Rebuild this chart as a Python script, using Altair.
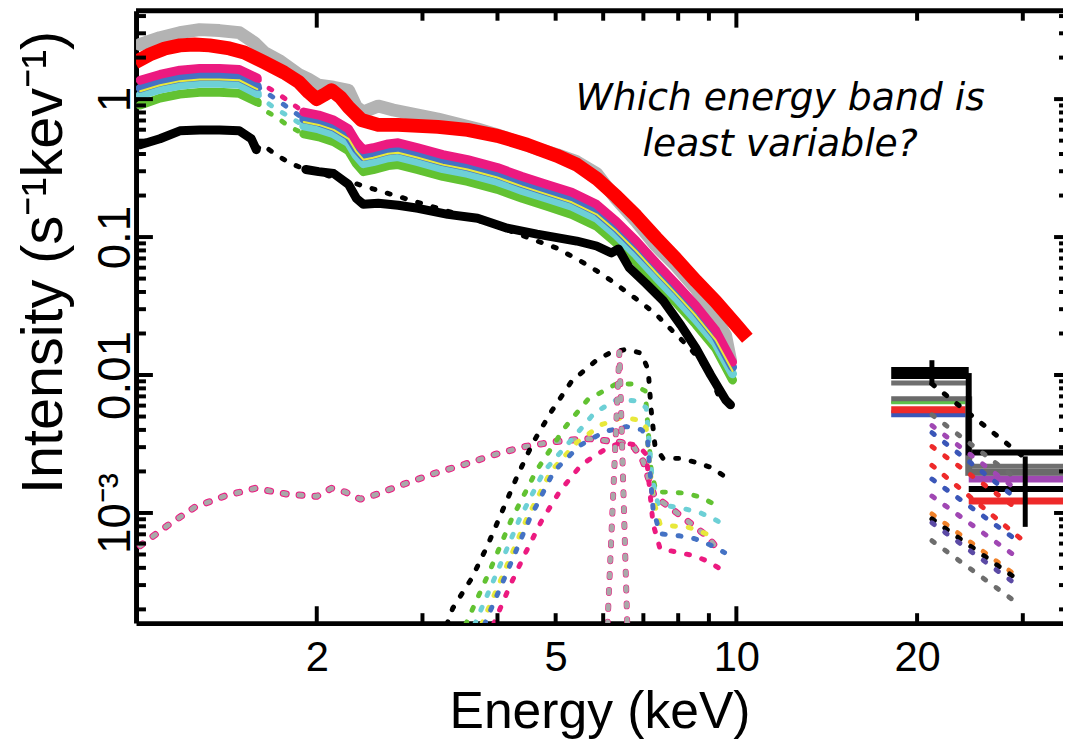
import altair as alt
import pandas as pd

# ---------------- data ----------------
# grey soft-band spectrum
gray_E = [1.016, 1.096, 1.183, 1.276, 1.377, 1.486, 1.574, 1.635, 1.730, 1.867, 1.940, 2.015, 2.134, 2.259,
          2.328, 2.391, 2.532, 2.681, 2.949, 3.183, 3.435, 3.706, 3.998, 4.314, 4.655, 5.023, 5.421, 5.849,
          6.312, 6.811, 7.350, 7.932, 8.559, 8.892, 9.237, 9.594, 9.779]
gray_I = [2.49, 2.79, 3.03, 3.19, 3.14, 3.03, 2.57, 2.18, 1.91, 1.51, 1.39, 1.26, 1.22, 1.16,
          0.876, 0.806, 0.890, 0.834, 0.767, 0.718, 0.661, 0.608, 0.551, 0.491, 0.437, 0.396, 0.352, 0.289,
          0.188, 0.130, 0.0861, 0.0619, 0.0423, 0.0335, 0.0257, 0.0194, 0.0128]

# red model curve
red_E = [0.9966, 1.055, 1.117, 1.183, 1.252, 1.326, 1.431, 1.515, 1.635, 1.764, 1.867, 1.940, 2.0, 2.054,
         2.117, 2.191, 2.259, 2.374, 2.532, 2.732, 3.183, 3.567, 3.998, 4.481, 5.023, 5.421, 5.849, 6.312,
         6.811, 7.350, 7.932, 8.559, 9.237, 9.967, 10.43]
red_I = [1.85, 2.11, 2.33, 2.45, 2.49, 2.45, 2.33, 2.18, 1.85, 1.56, 1.33, 1.12, 1.0, 1.07,
         1.16, 1.03, 0.876, 0.706, 0.650, 0.650, 0.629, 0.598, 0.542, 0.467, 0.389, 0.335, 0.266, 0.197,
         0.142, 0.0985, 0.0695, 0.0482, 0.0341, 0.0233, 0.0185]

# coloured spectra: segment below 1.6 keV, dotted gap, segment above 1.9 keV
seg1_E = [1.016, 1.096, 1.183, 1.276, 1.377, 1.486, 1.592]
pink1_I = [1.37, 1.51, 1.62, 1.67, 1.67, 1.64, 1.42]
blue1_I = [1.20, 1.33, 1.42, 1.46, 1.46, 1.44, 1.24]
yell1_I = [1.14, 1.26, 1.35, 1.39, 1.39, 1.37, 1.18]
cyan1_I = [1.07, 1.18, 1.26, 1.30, 1.30, 1.28, 1.10]
green1_I = [0.905, 1.017, 1.086, 1.12, 1.12, 1.10, 0.952]

gap_E = [1.592, 1.623, 1.711, 1.804, 1.903]
pink_gap = [1.42, 1.28, 1.12, 0.952, 0.806]
blue_gap = [1.24, 1.16, 1.0, 0.847, 0.718]
cyan_gap = [1.10, 1.0, 0.847, 0.742, 0.639]
green_gap = [0.952, 0.847, 0.742, 0.629, 0.560]

seg2_E = [1.903, 2.015, 2.134, 2.259, 2.328, 2.391, 2.484, 2.630, 2.732, 2.949, 3.243, 3.567, 3.998,
          4.396, 4.836, 5.319, 5.849, 6.312, 6.811, 7.350, 7.932, 8.559, 9.237, 9.854]
pink2_I = [0.806, 0.767, 0.706, 0.608, 0.491, 0.430, 0.444, 0.474, 0.483, 0.444, 0.396, 0.364, 0.319,
           0.275, 0.2406, 0.211, 0.1727, 0.130, 0.0936, 0.065, 0.0459, 0.0319, 0.0211, 0.0124]
blue2_I = [0.718, 0.683, 0.629, 0.542, 0.437, 0.383, 0.396, 0.4225, 0.430, 0.396, 0.352, 0.324, 0.284,
           0.2446, 0.214, 0.188, 0.154, 0.116, 0.0833, 0.0589, 0.0416, 0.0289, 0.0191, 0.0114]
yell2_I = [0.683, 0.650, 0.598, 0.5157, 0.416, 0.364, 0.376, 0.402, 0.409, 0.376, 0.335, 0.3085, 0.270,
           0.233, 0.204, 0.1786, 0.1463, 0.110, 0.0793, 0.0551, 0.0389, 0.027, 0.0179, 0.0107]
cyan2_I = [0.639, 0.608, 0.560, 0.4827, 0.389, 0.3406, 0.352, 0.376, 0.383, 0.352, 0.3136, 0.289, 0.253,
           0.2178, 0.1909, 0.167, 0.137, 0.1034, 0.0742, 0.0515, 0.0364, 0.0253, 0.0170, 0.0102]
green2_I = [0.560, 0.533, 0.491, 0.4225, 0.341, 0.298, 0.3085, 0.3296, 0.335, 0.3085, 0.275, 0.253, 0.2215,
            0.191, 0.167, 0.146, 0.120, 0.0905, 0.0661, 0.0467, 0.0335, 0.0233, 0.0156, 0.0092]

# black spectrum
blk1_E = [1.016, 1.096, 1.183, 1.276, 1.377, 1.486, 1.556, 1.586]
blk1_I = [0.467, 0.516, 0.589, 0.598, 0.598, 0.589, 0.516, 0.430]
blk2_E = [1.918, 2.015, 2.134, 2.259, 2.328, 2.391, 2.532, 2.732, 2.949, 3.306, 3.706, 4.153, 4.655,
          5.421, 5.849, 6.193, 6.362, 6.633, 7.076, 7.548, 8.084, 8.559, 9.063, 9.594, 9.779]
blk2_I = [0.309, 0.298, 0.289, 0.241, 0.191, 0.173, 0.1757, 0.170, 0.1617, 0.146, 0.137, 0.116, 0.1051,
          0.0936, 0.0861, 0.0767, 0.0820, 0.0598, 0.0459, 0.0347, 0.0229, 0.0157, 0.0100, 0.00661, 0.00608]

# black dotted continuum model
bmod_E = [1.586, 1.623, 1.711, 1.811, 1.918, 2.259, 2.732, 3.306, 3.998, 4.655, 5.023, 5.567, 5.849,
          6.193, 6.557, 6.943, 7.350, 7.694, 8.054, 8.43, 8.79, 9.10, 9.31]
bmod_I = [0.430, 0.467, 0.396, 0.341, 0.309, 0.253, 0.197, 0.154, 0.120, 0.0936, 0.0832, 0.065, 0.057,
          0.0482, 0.0402, 0.0335, 0.0275, 0.0225, 0.0185, 0.0151, 0.0120, 0.00936, 0.0073]

# soft (reflection) component, grey dotted
soft_E = [1.016, 1.126, 1.252, 1.404, 1.579, 1.784, 2.0, 2.117, 2.233, 2.364, 2.494, 2.796, 3.146, 3.526,
          3.968, 4.447, 5.023, 5.675, 6.433, 6.760, 6.995, 7.13, 7.295, 7.694, 8.084, 8.496, 8.96, 9.344]
soft_I = [0.000579, 0.000805, 0.00110, 0.001325, 0.00151, 0.00137, 0.00132, 0.00151, 0.001416, 0.00126,
          0.001348, 0.00162, 0.00194, 0.00225, 0.00266, 0.00303, 0.00330, 0.00346, 0.00324, 0.00298,
          0.002366, 0.001815, 0.001325, 0.001123, 0.00095, 0.000806, 0.000672, 0.000533]

# narrow Fe line (grey dotted)
narrow_E = [6.10, 6.385, 6.58]
narrow_I = [0.000155, 0.01464, 0.000155]

# broad Fe line components
bg_E = [3.293, 3.370, 3.622, 3.849, 4.075, 4.314, 4.585, 4.928, 5.319, 5.849, 6.146, 6.557, 6.943, 7.13,
        7.211, 7.321, 7.548, 8.054, 8.559, 9.063, 9.557]
bg_I = [0.000155, 0.000204, 0.000335, 0.000579, 0.001034, 0.001845, 0.00324, 0.00551, 0.00905, 0.0128,
        0.0144, 0.01538, 0.0144, 0.0109, 0.0056, 0.00303, 0.002487, 0.002487, 0.002328, 0.002143, 0.001845]
gfe_E = [3.539, 3.878, 4.217, 4.638, 5.179, 5.652, 6.312, 6.683, 7.049, 7.211, 7.350, 7.753, 8.208, 8.724, 9.237]
gfe_I = [0.000155, 0.000376, 0.00089, 0.002005, 0.004157, 0.00661, 0.00862, 0.00862, 0.00767, 0.00207,
         0.001416, 0.001416, 0.001393, 0.001303, 0.001142]
cfe_E = [3.664, 3.998, 4.346, 4.781, 5.319, 5.805, 6.312, 6.811, 7.076, 7.239, 7.406, 8.208, 8.724, 9.237, 9.705]
cfe_I = [0.000155, 0.000376, 0.00089, 0.002005, 0.00341, 0.00533, 0.00661, 0.0065, 0.00579, 0.00176,
         0.00116, 0.00107, 0.001, 0.00089, 0.00078]
yfe_E = [3.762, 4.106, 4.465, 4.91, 5.421, 5.963, 6.433, 6.863, 7.076, 7.265, 7.462, 7.783, 8.27, 8.757, 9.271]
yfe_I = [0.000155, 0.000376, 0.00089, 0.002005, 0.00324, 0.00437, 0.0049, 0.00474, 0.004157, 0.00126,
         0.000834, 0.000806, 0.000793, 0.00073, 0.00065]
bfe_E = [3.804, 4.153, 4.516, 4.966, 5.483, 6.03, 6.557, 6.943, 7.103, 7.265, 7.462, 8.023, 8.529, 9.029, 9.557]
bfe_I = [0.000155, 0.000376, 0.00089, 0.002005, 0.00308, 0.00389, 0.00423, 0.00402, 0.00364, 0.00107,
         0.000706, 0.000683, 0.00065, 0.000588, 0.000516]
pfe_E = [3.937, 4.184, 4.43, 4.727, 5.082, 5.525, 6.146, 6.482, 6.863, 7.076, 7.265, 7.462, 8.023, 8.496, 8.99, 9.484]
pfe_I = [0.000155, 0.000289, 0.00049, 0.000862, 0.00144, 0.00225, 0.00303, 0.00324, 0.00308, 0.00266,
         0.000834, 0.000551, 0.000516, 0.00049, 0.000444, 0.000383]

# hard band: two bins
bin_lo = [18.11, 24.38]
bin_hi = [24.38, 35.0]
hb_names = ["blue", "red", "purple", "gray2", "gray1", "green", "black_b", "black_a"]
hb_colors = ["#3a56b8", "#ee2a2a", "#a047b3", "#6a6a6a", "#6f6f6f", "#5fc04a", "#000000", "#000000"]
hb_widths = [7, 7, 7, 7, 5, 3, 6, 6]
hb_bin1 = [0.00524, 0.0056, None, 0.00661, 0.00876, 0.00629, 0.00983, 0.01086]
hb_bin2 = [None, 0.00122, 0.00176, 0.00197, 0.002178, None, 0.002747, 0.00149]
step_names = ["gray2", "black_b"]
err_E = [21.17, 30.28]
err_lo = [0.00847, 0.000793]
err_hi = [0.0128, 0.00257]

# hard band dotted model lines (start at 21.2 keV)
hd_E0 = [21.17] * 12
hd_E1 = [30.16, 28.93, 28.93, 28.93, 28.93, 30.05, 28.93, 28.93, 28.93, 28.93, 28.93, 28.93]
hd_I0 = [0.00862, 0.00515, 0.0043, 0.00382, 0.00303, 0.002215, 0.00176, 0.001325, 0.000984, 0.000906, 0.000848, 0.000629]
hd_I1 = [0.00253, 0.001845, 0.00154, 0.001325, 0.001123, 0.000629, 0.000661, 0.000499, 0.000364, 0.000346, 0.000314, 0.000233]
hd_col = ["#000000", "#6d6d6d", "#a047b3", "#3a56b8", "#ee2a2a", "#ee2a2a", "#3a56b8", "#a047b3",
          "#f0822a", "#000000", "#5b4aa5", "#6d6d6d"]

# ticks
x_long = [2, 10]
x_short = [3, 4, 5, 6, 7, 8, 9, 20, 30]
y_long = [0.001, 0.01, 0.1, 1]
y_short = [0.0002, 0.0003, 0.0004, 0.0005, 0.0006, 0.0007, 0.0008, 0.0009,
           0.002, 0.003, 0.004, 0.005, 0.006, 0.007, 0.008, 0.009,
           0.02, 0.03, 0.04, 0.05, 0.06, 0.07, 0.08, 0.09,
           0.2, 0.3, 0.4, 0.5, 0.6, 0.7, 0.8, 0.9, 2, 3, 4]

note_text = "Which energy band is\nleast variable?"
note_E = 11.83
note_I = 0.830

# ---------------- chart ----------------
W, H = 934, 617
FONT = "Liberation Sans, Arial, Helvetica, sans-serif"
PINK, BLUE, YELL, CYAN, GREEN = "#ec1a80", "#4472c4", "#e8e83a", "#6dd0d6", "#62c232"
GREY = "#b3b3b3"

xs = alt.Scale(type="log", domain=[1.0, 35.0], nice=False)
ys = alt.Scale(type="log", domain=[1.59e-4, 4.37], nice=False)

xaxis = alt.Axis(values=[2, 5, 10, 20], format="~g", title="Energy (keV)", ticks=False, tickSize=0,
                 grid=False, domain=True, domainColor="black", domainWidth=5,
                 labelFont=FONT, labelFontSize=42, labelColor="black", labelBaseline="alphabetic",
                 labelPadding=48, labelFlush=False, labelOverlap=False,
                 titleFont=FONT, titleFontSize=52, titleFontWeight="normal", titleColor="black",
                 titleBaseline="alphabetic", titleY=105, titleX=W / 2, titleAlign="center")
yaxis = alt.Axis(values=[0.001, 0.01, 0.1, 1],
                 labelExpr="datum.value < 0.005 ? '10⁻³' : (datum.value < 0.05 ? '0.01' : (datum.value < 0.5 ? '0.1' : '1'))",
                 title="Intensity (s⁻¹kev⁻¹)", ticks=False, tickSize=0, grid=False,
                 domain=True, domainColor="black", domainWidth=5,
                 labelFont=FONT, labelFontSize=46, labelColor="black", labelAngle=270,
                 labelAlign="center", labelBaseline="alphabetic", labelPadding=7,
                 labelFlush=False, labelOverlap=False,
                 titleFont=FONT, titleFontSize=58, titleFontWeight="normal", titleColor="black",
                 titleAngle=270, titleX=-75, titleY=253, titleAlign="center", titleBaseline="alphabetic")

X = alt.X("E:Q", scale=xs, axis=xaxis)
Y = alt.Y("I:Q", scale=ys, axis=yaxis)

DOT = [3, 13]


def line(E, I, color, width, dotted=False, cap="round"):
    df = pd.DataFrame({"E": E, "I": I, "o": list(range(len(E)))})
    props = dict(color=color, strokeWidth=width, clip=True, strokeCap=cap, strokeJoin="round")
    if dotted:
        props["strokeDash"] = DOT
        props["strokeCap"] = "round"
    return alt.Chart(df).mark_line(**props).encode(x=X, y=Y, order="o:Q")


layers = []
# lower model components (dotted)
layers.append(line(soft_E, soft_I, PINK, 7, dotted=True))
layers.append(line(soft_E, soft_I, "#a9a9a9", 5, dotted=True))
layers.append(line(bg_E, bg_I, "black", 5, dotted=True))
layers.append(line(gfe_E, gfe_I, GREEN, 5, dotted=True))
layers.append(line(cfe_E, cfe_I, CYAN, 5, dotted=True))
layers.append(line(yfe_E, yfe_I, YELL, 5, dotted=True))
layers.append(line(bfe_E, bfe_I, BLUE, 5, dotted=True))
layers.append(line(pfe_E, pfe_I, PINK, 5, dotted=True))
layers.append(line(narrow_E, narrow_I, PINK, 6, dotted=True))
layers.append(line(narrow_E, narrow_I, "#a9a9a9", 5, dotted=True))

# spectra
layers.append(line(gray_E, gray_I, GREY, 13))
layers.append(line(bmod_E, bmod_I, "black", 5, dotted=True))
for E1, I1, Eg, Ig, I2, col in [
    (seg1_E, green1_I, gap_E, green_gap, green2_I, GREEN),
    (seg1_E, cyan1_I, gap_E, cyan_gap, cyan2_I, CYAN),
    (seg1_E, blue1_I, gap_E, blue_gap, blue2_I, BLUE),
    (seg1_E, pink1_I, gap_E, pink_gap, pink2_I, PINK),
]:
    layers.append(line(E1, I1, col, 9))
    layers.append(line(Eg, Ig, col, 5, dotted=True))
    layers.append(line(seg2_E, I2, col, 9))
layers.append(line(seg1_E, yell1_I, YELL, 2))
layers.append(line(seg2_E, yell2_I, YELL, 2))
layers.append(line(blk1_E, blk1_I, "black", 9))
layers.append(line(blk2_E, blk2_I, "black", 9))
layers.append(line(red_E, red_I, "#ff0000", 14, cap="butt"))

# hard band bars
bar_rows = []
for n, c, w, v1, v2 in zip(hb_names, hb_colors, hb_widths, hb_bin1, hb_bin2):
    for lo, hi, v in zip(bin_lo, bin_hi, [v1, v2]):
        if v is not None:
            bar_rows.append({"E": lo, "E2": hi, "I": v, "c": c, "w": w, "n": n})
bars = pd.DataFrame(bar_rows)
for n in hb_names:
    sub = bars[bars.n == n]
    w = int(sub.w.iloc[0])
    layers.append(alt.Chart(sub).mark_rule(strokeWidth=w, clip=True, strokeCap="butt").encode(
        x=X, x2="E2:Q", y=Y, color=alt.Color("c:N", scale=None)))
for n in step_names:
    i = hb_names.index(n)
    r = {"E": bin_hi[0], "I": hb_bin1[i], "I2": hb_bin2[i]}
    layers.append(alt.Chart(pd.DataFrame([r])).mark_rule(strokeWidth=hb_widths[i], color=hb_colors[i],
                                                         strokeCap="square").encode(x=X, y=Y, y2="I2:Q"))
layers.append(alt.Chart(pd.DataFrame({"E": err_E, "I": err_lo, "I2": err_hi})).mark_rule(
    strokeWidth=5, color="black").encode(x=X, y=Y, y2="I2:Q"))

# hard band dotted models
hd_rows = []
for k in range(len(hd_E0)):
    hd_rows.append({"E": hd_E0[k], "I": hd_I0[k], "k": k, "o": 0, "c": hd_col[k]})
    hd_rows.append({"E": hd_E1[k], "I": hd_I1[k], "k": k, "o": 1, "c": hd_col[k]})
layers.append(alt.Chart(pd.DataFrame(hd_rows)).mark_line(strokeWidth=5, strokeDash=DOT, strokeCap="round", clip=True).encode(
    x=X, y=Y, detail="k:N", order="o:Q", color=alt.Color("c:N", scale=None)))

# ticks (inward) on all sides
for vals, L in [(x_long, 17), (x_short, 10)]:
    d = pd.DataFrame({"E": vals})
    layers.append(alt.Chart(d).mark_rule(strokeWidth=4, color="black").encode(x=X, y=alt.value(H), y2=alt.value(H - L)))
    layers.append(alt.Chart(d).mark_rule(strokeWidth=4, color="black").encode(x=X, y=alt.value(0), y2=alt.value(L)))
for vals, L, R in [(y_long, 17, 9), (y_short, 10, 4)]:
    d = pd.DataFrame({"I": vals})
    layers.append(alt.Chart(d).mark_rule(strokeWidth=4, color="black").encode(y=Y, x=alt.value(0), x2=alt.value(L)))
    layers.append(alt.Chart(d).mark_rule(strokeWidth=4, color="black").encode(y=Y, x=alt.value(W), x2=alt.value(W - R)))
# top frame line
layers.append(alt.Chart(pd.DataFrame({"E": [1.0]})).mark_rule(strokeWidth=5, color="black").encode(
    x=alt.value(0), x2=alt.value(W), y=alt.value(0)))

# annotation
layers.append(alt.Chart(pd.DataFrame({"E": [note_E], "I": [note_I], "t": [note_text]})).mark_text(
    font="DejaVu Sans, sans-serif", fontStyle="italic", fontSize=38, align="center", baseline="alphabetic",
    lineBreak="\n", lineHeight=46, color="black").encode(x=X, y=Y, text="t:N"))

chart = alt.layer(*layers).properties(
    width=W, height=H,
    autosize=alt.AutoSizeParams(type="none"),
    padding={"left": 129, "top": 0, "right": 0, "bottom": 118},
    background="white",
).configure_view(stroke=None)

chart.save("out.html", embed_options={"renderer": "svg", "actions": False})
